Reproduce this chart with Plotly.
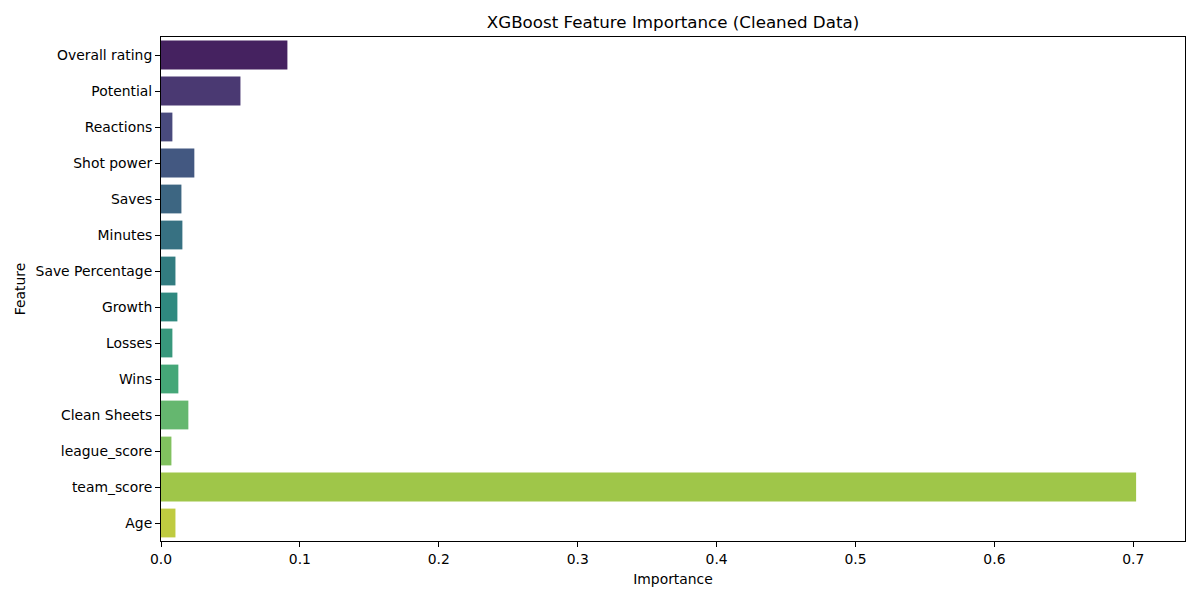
import colorsys
import plotly.graph_objects as go
from plotly.colors import sample_colorscale, unlabel_rgb

features = ["Overall rating", "Potential", "Reactions", "Shot power", "Saves", "Minutes",
            "Save Percentage", "Growth", "Losses", "Wins", "Clean Sheets", "league_score",
            "team_score", "Age"]
importance = [0.0910, 0.0572, 0.0082, 0.0240, 0.0147, 0.0154, 0.0104, 0.0118, 0.0082,
              0.0125, 0.0197, 0.0075, 0.7020, 0.0104]
x_ticks = [0.0, 0.1, 0.2, 0.3, 0.4, 0.5, 0.6, 0.7]

# seaborn-like viridis palette (bins) desaturated to 0.75
n = len(features)
pos = [(i + 1) / (n + 1) for i in range(n)]
raw = sample_colorscale("Viridis", pos, colortype="rgb")
colors = []
for c in raw:
    r, g, b = [v / 255 for v in unlabel_rgb(c)]
    h, l, s = colorsys.rgb_to_hls(r, g, b)
    r, g, b = colorsys.hls_to_rgb(h, l, s * 0.75)
    colors.append("rgb(%d,%d,%d)" % (round(r * 255), round(g * 255), round(b * 255)))

fig = go.Figure(go.Bar(
    x=importance, y=features, orientation="h",
    marker=dict(color=colors, line=dict(width=0)),
    width=0.8,
))

font = "DejaVu Sans, sans-serif"
fig.update_layout(
    width=1200, height=600,
    margin=dict(l=161, r=15, t=37, b=59),
    plot_bgcolor="white", paper_bgcolor="white",
    font=dict(family=font, size=13.9, color="black"),
    title=dict(text="XGBoost Feature Importance (Cleaned Data)", x=(161 + 1185) / 2 / 1200,
               xanchor="center", y=1 - 22 / 600, yanchor="middle",
               font=dict(size=16.7, family=font, color="black")),
    showlegend=False,
    bargap=0.2,
)
fig.update_xaxes(
    range=[0, 0.7372], tickvals=x_ticks, tickformat=".1f",
    showline=True, linecolor="black", linewidth=1, mirror=True,
    ticks="outside", ticklen=5, tickcolor="black", showgrid=False, zeroline=False,
    title=dict(text="Importance", font=dict(size=13.9), standoff=8),
)
fig.update_yaxes(
    categoryorder="array", categoryarray=features, autorange="reversed",
    showline=True, linecolor="black", linewidth=1, mirror=True,
    ticks="outside", ticklen=5, tickcolor="black", showgrid=False,
    title=dict(text="Feature", font=dict(size=13.9), standoff=6),
)
fig.write_html("out.html")
